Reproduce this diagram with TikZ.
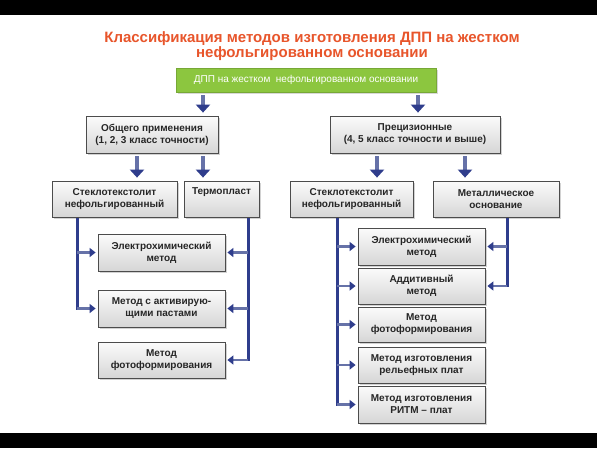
\documentclass[tikz,border=0pt]{standalone}
\usepackage{fontspec}
\setmainfont{Liberation Sans}
\usetikzlibrary{arrows.meta,shadows}
\definecolor{navy}{HTML}{2F3D8C}
\definecolor{shaft}{HTML}{6672A8}
\definecolor{ttl}{HTML}{E8552B}
\definecolor{grn}{HTML}{8CC63F}
\tikzset{
 box/.style={draw=gray!60!black, line width=0.8pt, top color=gray!3, bottom color=gray!32,
   align=center, font=\fontsize{10}{12}\selectfont\bfseries, text=black!85, inner sep=1pt,
   drop shadow={shadow xshift=1.5pt,shadow yshift=-1.5pt,opacity=0.35}},
 darr/.style={line width=3.5pt, draw=shaft, shorten <=3pt, shorten >=3pt,
   -{Triangle[width=14pt,length=8pt,color=navy,fill=navy]}},
 barr/.style={line width=2.5pt, draw=shaft, shorten >=2pt,
   -{Triangle[width=9pt,length=6pt,color=navy,fill=navy]}},
 vline/.style={line width=3pt, draw=navy},
}
\begin{document}
\begin{tikzpicture}[x=1pt,y=-1pt]
\useasboundingbox (0,0) rectangle (597,448);
\fill[white] (0,0) rectangle (597,448);
\fill[black] (0,0) rectangle (597,15);
\fill[black] (0,433) rectangle (597,448);

\node[text=ttl, font=\fontsize{15}{15.5}\selectfont\bfseries, align=center] (title) at (312,46)
  {Классификация методов изготовления ДПП на жестком\\нефольгированном основании};

\node[fill=grn, draw=grn!85!black, line width=0.5pt, minimum width=260pt, minimum height=24pt,
  text=white, font=\fontsize{10}{11}\selectfont,
  drop shadow={shadow xshift=1.5pt,shadow yshift=-1.5pt,opacity=0.3}] (root) at (306,80)
  {ДПП на жестком\ \ нефольгированном основании};

\node[box, minimum width=132pt, minimum height=37pt] (gen) at (152,134.5)
  {Общего применения\\(1, 2, 3 класс точности)};
\node[box, minimum width=170pt, minimum height=37pt] (prec) at (415,134.5)
  {Прецизионные\\(4, 5 класс точности и выше)};

\node[box, minimum width=125pt, minimum height=36pt] (st1) at (114.5,199)
  {Стеклотекстолит\\нефольгированный};
\node[box, minimum width=75pt, minimum height=36pt] (term) at (221.5,199)
  {Термопласт\\\strut};
\node[box, minimum width=123pt, minimum height=36pt] (st2) at (351.5,199)
  {Стеклотекстолит\\нефольгированный};
\node[box, minimum width=126pt, minimum height=36pt] (met) at (496,199)
  {Металлическое\\основание};

\node[box, minimum width=127pt, minimum height=37pt] (L1) at (161.5,252.5)
  {Электрохимический\\метод};
\node[box, minimum width=127pt, minimum height=37pt] (L2) at (161.5,308.5)
  {Метод с активирую-\\щими пастами};
\node[box, minimum width=127pt, minimum height=36pt] (L3) at (161.5,360)
  {Метод\\фотоформирования};

\node[box, minimum width=127pt, minimum height=37pt] (R1) at (421.5,246.5)
  {Электрохимический\\метод};
\node[box, minimum width=127pt, minimum height=36pt] (R2) at (421.5,286)
  {Аддитивный\\метод};
\node[box, minimum width=127pt, minimum height=35pt] (R3) at (421.5,324.5)
  {Метод\\фотоформирования};
\node[box, minimum width=127pt, minimum height=36pt] (R4) at (421.5,365)
  {Метод изготовления\\рельефных плат};
\node[box, minimum width=127pt, minimum height=37pt] (R5) at (421.5,404.5)
  {Метод изготовления\\РИТМ -- плат};

% arrow x positions
\coordinate (a1) at (203,0);
\coordinate (a2) at (418,0);
\coordinate (a3) at (137,0);
\coordinate (a4) at (203,0);
\coordinate (a5) at (377,0);
\coordinate (a6) at (465,0);
\coordinate (v1) at (77,0);
\coordinate (v2) at (248,0);
\coordinate (v3) at (337,0);
\coordinate (v4) at (507,0);

\draw[darr] (root.south -| a1) -- (gen.north -| a1);
\draw[darr] (root.south -| a2) -- (prec.north -| a2);
\draw[darr] (gen.south -| a3) -- (st1.north -| a3);
\draw[darr] (gen.south -| a4) -- (term.north -| a4);
\draw[darr] (prec.south -| a5) -- (st2.north -| a5);
\draw[darr] (prec.south -| a6) -- (met.north -| a6);

\draw[vline] ([yshift=-0.5pt]st1.south -| v1) -- ([yshift=-1.25pt]L2.west -| v1);
\draw[vline] ([yshift=-0.5pt]term.south -| v2) -- ([yshift=-1.25pt]L3.east -| v2);
\draw[vline] ([yshift=-0.5pt]st2.south -| v3) -- ([yshift=-1.25pt]R5.west -| v3);
\draw[vline] ([yshift=-0.5pt]met.south -| v4) -- ([yshift=-1.25pt]R2.east -| v4);

\foreach \n in {L1,L2} \draw[barr] (\n.west -| v1) -- (\n.west);
\foreach \n in {L1,L2,L3} \draw[barr] (\n.east -| v2) -- (\n.east);
\foreach \n in {R1,R2,R3,R4,R5} \draw[barr] (\n.west -| v3) -- (\n.west);
\foreach \n in {R1,R2} \draw[barr] (\n.east -| v4) -- (\n.east);
\end{tikzpicture}
\end{document}
